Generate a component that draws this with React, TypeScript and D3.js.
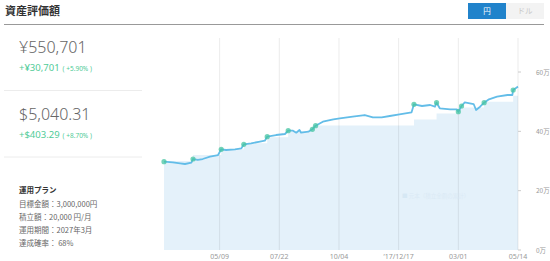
import React from "react";
import * as d3 from "d3";

const valueDates = [
  "2017-03-01","2017-03-12","2017-03-21","2017-03-27","2017-04-04","2017-04-06","2017-04-12","2017-04-18","2017-04-27","2017-05-07",
  "2017-05-11","2017-05-17","2017-05-28","2017-06-05","2017-06-08","2017-06-17","2017-06-28","2017-07-04","2017-07-07","2017-07-18",
  "2017-07-29","2017-08-02","2017-08-08","2017-08-12","2017-08-16","2017-08-18","2017-08-27","2017-09-01","2017-09-05","2017-09-14",
  "2017-09-27","2017-10-05","2017-10-21","2017-11-05","2017-11-15","2017-11-26","2017-12-06","2017-12-18","2018-01-02","2018-01-05",
  "2018-01-15","2018-01-25","2018-01-31","2018-02-02","2018-02-06","2018-02-19","2018-02-27","2018-03-01","2018-03-05","2018-03-09",
  "2018-03-20","2018-03-23","2018-03-28","2018-04-02","2018-04-08","2018-04-18","2018-05-01","2018-05-07","2018-05-08","2018-05-12",
  "2018-05-14",
];
const values = [
  297600,295600,292200,289900,294300,306700,303400,306700,314500,320200,
  339400,337100,339400,342800,356300,359700,365100,368400,381900,387600,
  391000,402100,402100,395400,404500,395400,398800,406900,419000,432500,
  440600,443900,449300,455000,447300,447300,451700,457400,464200,491100,
  485400,488800,483000,496500,477600,474300,474300,466200,485400,497900,
  492100,471900,483000,496500,508000,516700,522500,522500,539300,547100,
  550701,
];

const principalDates = [
  "2017-03-01","2017-04-06","2017-05-11","2017-06-08","2017-07-07","2017-08-02","2017-09-01",
  "2018-01-05","2018-02-02","2018-03-01","2018-04-02","2018-05-08","2018-05-14",
];
const principal = [
  300000,320000,340000,360000,380000,400000,420000,
  440000,460000,480000,500000,520000,520000,
];

const dotDates = [
  "2017-03-01","2017-04-06","2017-05-11","2017-06-08","2017-07-07","2017-08-02","2017-09-01","2017-09-05",
  "2018-01-05","2018-02-02","2018-03-01","2018-03-05","2018-04-02","2018-05-08",
];

const xTickDates = ["2017-05-09","2017-07-22","2017-10-04","2017-12-17","2018-03-01","2018-05-14"];
const xTickLabels = ["05/09","07/22","10/04","\u201917/12/17","03/01","05/14"];
const yTicks = [0, 200000, 400000, 600000];
const yTickLabels = ["0万","20万","40万","60万"];

const planLines = ["目標金額：3,000,000円", "積立額：20,000 円/月", "運用期間：2027年3月", "達成確率： 68%"];

const parse = d3.utcParse("%Y-%m-%d");
const FONT = "'Noto Sans CJK JP', 'Noto Sans', sans-serif";

export default function App() {
  const x = d3.scaleUtc().domain([parse("2017-03-01")!, parse("2018-05-14")!]).range([164, 518]);
  const y = d3.scaleLinear().domain([0, 600000]).range([250, 72]);

  const series = valueDates.map((d, i) => ({ date: parse(d)!, v: values[i] }));
  const pSeries = principalDates.map((d, i) => ({ date: parse(d)!, v: principal[i] }));

  const line = d3.line<{ date: Date; v: number }>().x((d) => x(d.date)).y((d) => y(d.v));
  const area = d3
    .area<{ date: Date; v: number }>()
    .x((d) => x(d.date))
    .y0(y(0))
    .y1((d) => y(d.v))
    .curve(d3.curveStepAfter);

  const dots = dotDates.map((d) => {
    const dt = parse(d)!;
    return series.find((s) => +s.date === +dt)!;
  });

  const green = "#4fcb97";

  return (
    <svg width={550} height={261} style={{ position: "absolute", left: 0, top: 0, background: "#fff" }} fontFamily={FONT}>
      {/* header */}
      <text x={5} y={15} fontSize={11} fontWeight={700} fill="#333">資産評価額</text>
      <rect x={468} y={3} width={38} height={16} fill="#2183cb" />
      <text x={487} y={14} fontSize={7.5} fill="#fff" textAnchor="middle">円</text>
      <rect x={506} y={3} width={38} height={16} fill="#f3f3f3" />
      <text x={525} y={14} fontSize={7.5} fill="#c8c8c8" textAnchor="middle">ドル</text>
      <line x1={4} x2={544} y1={24.5} y2={24.5} stroke="#999" strokeWidth={1.2} />

      {/* left panel */}
      <text x={19} y={53} fontSize={16} fill="#666" fontFamily="'Noto Sans', sans-serif" fontWeight={300}>¥550,701</text>
      <text x={19} y={70.5} fill={green} fontFamily="'Noto Sans', sans-serif">
        <tspan fontSize={9.5}>+¥30,701</tspan>
        <tspan fontSize={6.5} dx={3}>( +5.90% )</tspan>
      </text>
      <line x1={4} x2={142} y1={90.5} y2={90.5} stroke="#ececec" />
      <text x={19} y={120} fontSize={16} fill="#666" fontFamily="'Noto Sans', sans-serif" fontWeight={300}>$5,040.31</text>
      <text x={19} y={137.5} fill={green} fontFamily="'Noto Sans', sans-serif">
        <tspan fontSize={9.5}>+$403.29</tspan>
        <tspan fontSize={6.5} dx={3}>( +8.70% )</tspan>
      </text>
      <line x1={4} x2={142} y1={157} y2={157} stroke="#ececec" />
      <text x={19} y={193} fontSize={7.5} fontWeight={700} fill="#333">運用プラン</text>
      {planLines.map((t, i) => (
        <text key={i} x={19} y={207 + i * 13} fontSize={7.5} fill="#666">{t}</text>
      ))}

      {/* chart */}
      <path d={area(pSeries)!} fill="#e4f1fa" />
      {xTickDates.map((d, i) => (
        <line key={i} x1={x(parse(d)!)} x2={x(parse(d)!)} y1={38} y2={250} stroke="#000" strokeOpacity={0.08} />
      ))}
      <text x={402} y={198} fontSize={5.5} fill="#dbeaf5">
        <tspan fill="#d6e8f4">■</tspan> 元本（積立金額の累計）
      </text>
      <path d={line(series)!} fill="none" stroke="#63bde8" strokeWidth={1.8} strokeLinejoin="round" />
      {dots.map((p, i) => (
        <circle key={i} cx={x(p.date)} cy={y(p.v)} r={2.6} fill="#45c4a2" fillOpacity={0.75} />
      ))}

      {/* y axis right */}
      {yTicks.map((t, i) => (
        <g key={i}>
          <line x1={518} x2={521} y1={y(t)} y2={y(t)} stroke="#ccc" />
          <text x={536} y={y(t) + 2.5} fontSize={6.5} fill="#999">{yTickLabels[i]}</text>
        </g>
      ))}
      {/* x axis labels */}
      {xTickDates.map((d, i) => (
        <text key={i} x={x(parse(d)!)} y={258.5} fontSize={7} fill="#999" textAnchor="middle" fontFamily="'Noto Sans', sans-serif">
          {xTickLabels[i]}
        </text>
      ))}
    </svg>
  );
}
